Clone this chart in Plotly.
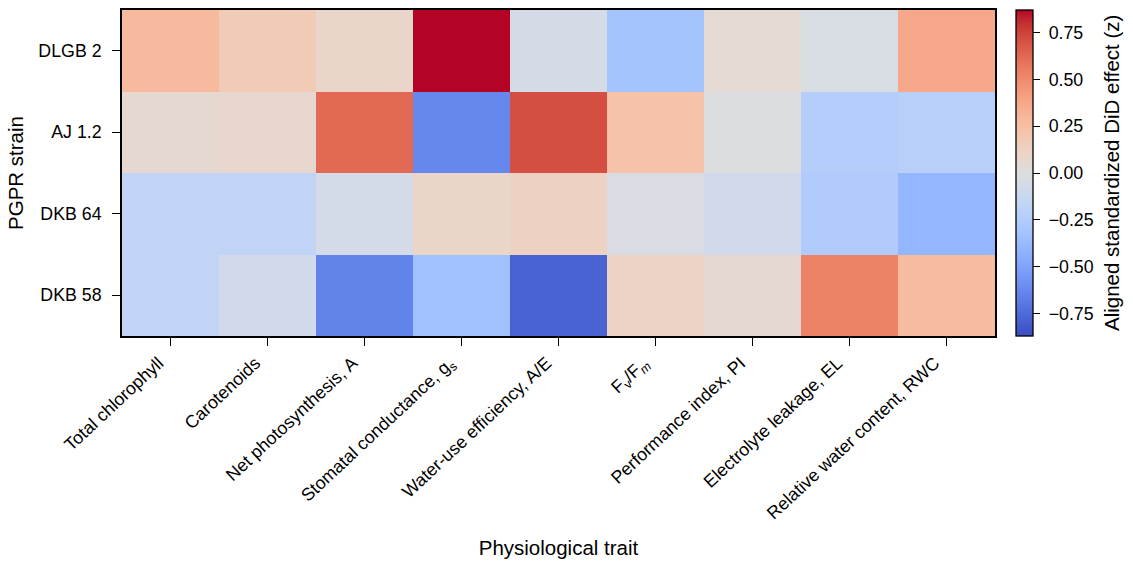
import plotly.graph_objects as go

strains = ["DLGB 2", "AJ 1.2", "DKB 64", "DKB 58"]
traits = [
    "Total chlorophyll",
    "Carotenoids",
    "Net photosynthesis, A",
    "Stomatal conductance, g<sub>s</sub>",
    "Water-use efficiency, A/E",
    "F<sub>v</sub>/F<sub><i>m</i></sub>",
    "Performance index, PI",
    "Electrolyte leakage, EL",
    "Relative water content, RWC",
]

dlgb2 = [0.275, 0.17, 0.087, 0.87, -0.06, -0.32, 0.045, -0.035, 0.37]
aj12 = [0.055, 0.07, 0.62, -0.63, 0.71, 0.225, -0.005, -0.24, -0.215]
dkb64 = [-0.17, -0.17, -0.065, 0.09, 0.12, -0.03, -0.085, -0.26, -0.40]
dkb58 = [-0.17, -0.085, -0.65, -0.34, -0.78, 0.11, 0.055, 0.53, 0.27]

cbar_vals = [-0.75, -0.5, -0.25, 0, 0.25, 0.5, 0.75]
cbar_text = ["\u22120.75", "\u22120.50", "\u22120.25", "0.00", "0.25", "0.50", "0.75"]

z = [dlgb2, aj12, dkb64, dkb58]
vmax = max(abs(v) for row in z for v in row)

cw = [
    (0.0, 0.2298057, 0.298717966, 0.753683153),
    (0.03125, 0.26623388, 0.353094838, 0.801466763),
    (0.0625, 0.30386891, 0.406535296, 0.84495867),
    (0.09375, 0.342804478, 0.458757618, 0.883725899),
    (0.125, 0.38301334, 0.50941904, 0.917387822),
    (0.15625, 0.424369608, 0.558148092, 0.945619588),
    (0.1875, 0.46666708, 0.604562568, 0.968154911),
    (0.21875, 0.509635204, 0.648280772, 0.98478814),
    (0.25, 0.552953156, 0.688929332, 0.995375608),
    (0.28125, 0.596262162, 0.726149107, 0.999836203),
    (0.3125, 0.639176211, 0.759599947, 0.998151185),
    (0.34375, 0.681291281, 0.788964712, 0.990363227),
    (0.375, 0.722193294, 0.813952739, 0.976574709),
    (0.40625, 0.761464949, 0.834302879, 0.956945269),
    (0.4375, 0.798691636, 0.849786142, 0.931688648),
    (0.46875, 0.833466556, 0.860207984, 0.901068838),
    (0.5, 0.865395197, 0.86541021, 0.865395561),
    (0.53125, 0.897787179, 0.848937047, 0.820880546),
    (0.5625, 0.924127593, 0.827384882, 0.774508472),
    (0.59375, 0.944468518, 0.800927443, 0.726736146),
    (0.625, 0.958852946, 0.769767752, 0.678007945),
    (0.65625, 0.96732803, 0.734132809, 0.628751763),
    (0.6875, 0.969954137, 0.694266682, 0.579375448),
    (0.71875, 0.966811177, 0.650421156, 0.530263762),
    (0.75, 0.958003065, 0.602842431, 0.481775914),
    (0.78125, 0.943660866, 0.551750968, 0.434243684),
    (0.8125, 0.923944917, 0.49730856, 0.387970225),
    (0.84375, 0.89904617, 0.439559467, 0.343229596),
    (0.875, 0.869186849, 0.378313092, 0.300267182),
    (0.90625, 0.834620542, 0.312874446, 0.259301199),
    (0.9375, 0.795631745, 0.24128379, 0.220525627),
    (0.96875, 0.752534934, 0.157246067, 0.184115123),
    (1.0, 0.705673158, 0.01555616, 0.150232812),
]
colorscale = [[p, "rgb(%d,%d,%d)" % (round(r * 255), round(g * 255), round(b * 255))] for p, r, g, b in cw]

font = "Liberation Sans, Arial, Helvetica, sans-serif"
TICK = 17.8
TITLE = 20.5

fig = go.Figure(
    go.Heatmap(
        z=z,
        x=traits,
        y=strains,
        colorscale=colorscale,
        zmin=-vmax,
        zmax=vmax,
        colorbar=dict(
            x=1.024,
            xanchor="left",
            y=0.5,
            yanchor="middle",
            len=1.0,
            lenmode="fraction",
            thickness=17,
            thicknessmode="pixels",
            outlinecolor="black",
            outlinewidth=1.3,
            xpad=0,
            ypad=0,
            tickvals=cbar_vals,
            ticktext=[" " + t for t in cbar_text],
            ticks="outside",
            ticklen=7,
            tickwidth=1.3,
            tickcolor="black",
            tickfont=dict(family=font, size=TICK, color="black"),
        ),
    )
)

fig.add_annotation(
    text="Aligned standardized DiD effect (z)",
    xref="paper",
    yref="paper",
    x=1.1329,
    y=0.5,
    xanchor="center",
    yanchor="middle",
    textangle=-90,
    showarrow=False,
    font=dict(family=font, size=TITLE, color="black"),
)

fig.update_layout(
    width=1133,
    height=564,
    margin=dict(l=122, r=138, t=10, b=228),
    paper_bgcolor="white",
    plot_bgcolor="white",
    font=dict(family=font, color="black"),
    xaxis=dict(
        title=dict(text="Physiological trait", font=dict(family=font, size=TITLE, color="black"), standoff=18),
        tickangle=-43,
        tickfont=dict(family=font, size=TICK, color="black"),
        ticks="outside",
        ticklen=8,
        tickwidth=1.3,
        tickcolor="black",
        ticklabelshift=-12,
        showline=True,
        linecolor="black",
        linewidth=1.6,
        mirror=True,
        showgrid=False,
        zeroline=False,
        automargin=False,
    ),
    yaxis=dict(
        title=dict(text="PGPR strain", font=dict(family=font, size=TITLE, color="black"), standoff=9),
        autorange="reversed",
        tickfont=dict(family=font, size=TICK, color="black"),
        ticks="outside",
        ticklen=8,
        tickwidth=1.3,
        tickcolor="black",
        ticklabelstandoff=7,
        showline=True,
        linecolor="black",
        linewidth=1.6,
        mirror=True,
        showgrid=False,
        zeroline=False,
        automargin=False,
    ),
)

fig.write_html(
    "out.html",
    config={"displayModeBar": False},
    post_script="document.body.style.margin='0';document.body.style.overflow='hidden';",
)
